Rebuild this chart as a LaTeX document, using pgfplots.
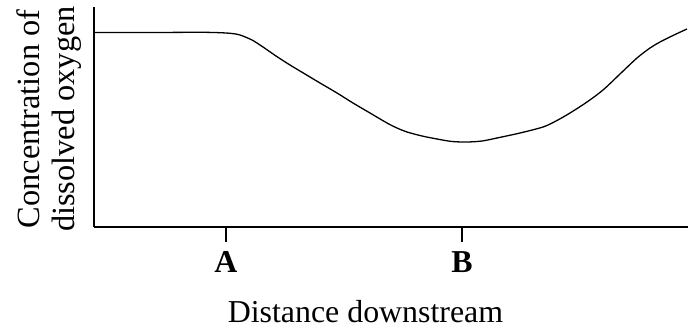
\documentclass[border=0pt]{standalone}
\usepackage{fontspec}
\setmainfont{Liberation Serif}
\usepackage{pgfplots}
\pgfplotsset{compat=1.18}

\begin{document}
\begin{tikzpicture}
\useasboundingbox (0,0) rectangle (688bp,331bp);
\begin{axis}[
    at={(94bp,104bp)},
    anchor=south west,
    scale only axis,
    width=594bp,
    height=220bp,
    xmin=94, xmax=688,
    ymin=0, ymax=220,
    axis lines=left,
    axis line style={-, line width=1.5bp},
    clip=false,
    ytick=\empty,
    xtick={226,462},
    xticklabels={\textbf{A},\textbf{B}},
    tick align=outside,
    major tick length=15bp,
    x tick style={line width=1.5bp, black},
    xticklabel style={anchor=base, yshift=-30bp, inner sep=0pt},
    font=\fontsize{32}{37}\selectfont,
    xlabel={Distance downstream},
    xlabel style={at={(axis description cs:0.457,0)}, anchor=base, yshift=-95bp, inner sep=0pt},
    ylabel={\fontsize{32.5}{35}\selectfont Concentration of\\dissolved oxygen},
    ylabel style={at={(axis description cs:0,0.5)}, anchor=south, align=center,
        font=\fontsize{32.5}{35}\selectfont, xshift=-2bp, yshift=12bp, inner sep=0pt},
]
\addplot[black, line width=1.3bp, smooth] coordinates {
    (94,194.5) (150,194.5) (200,194.7) (220,194.3) (232,193.5) (240,192)
    (252,187) (263,180) (276,171) (290,162) (305,153) (320,144)
    (337,134) (353,124) (370,114) (387,104) (397,99) (407,95)
    (422,91) (437,88) (452,85.5) (467,85) (482,86) (497,89)
    (520,94) (543,100) (556,106) (570,114) (587,125) (603,137)
    (620,153) (637,169) (650,179) (660,185) (674,192) (687,198)
};
\end{axis}
\end{tikzpicture}
\end{document}
